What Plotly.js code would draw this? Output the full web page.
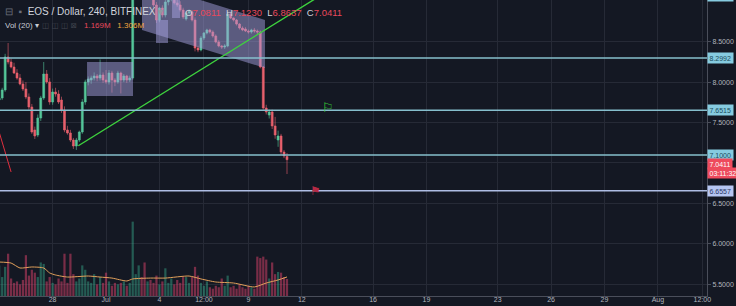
<!DOCTYPE html>
<html><head><meta charset="utf-8">
<script src="https://cdn.plot.ly/plotly-3.0.1.min.js"></script>
<style>html,body{margin:0;padding:0;background:#141823;}#chart{width:736px;height:306px;}</style>
</head><body><div id="chart"></div>
<script>
// ---------- data ----------
const firstCandle = '2018-06-25T00:00:00Z';
const candleHours = 4;

const openP = [7.78,7.804,7.903,8.311,8.249,8.187,8.113,8.051,7.977,7.915,
 7.816,7.692,7.408,7.346,7.556,7.804,8.100,8.002,7.754,7.878,
 7.853,7.779,7.655,7.408,7.371,7.284,7.210,7.284,7.383,7.754,
 8.002,8.026,8.051,8.076,8.051,8.088,8.026,8.002,8.113,8.026,
 8.002,8.113,8.026,8.076,8.026,8.051,9.15,9.30,9.38,9.22,
 9.14,9.24,9.15,8.954,8.768,8.917,8.830,8.991,9.06,9.08,
 8.98,8.954,8.892,8.78,8.855,8.87,8.768,8.422,8.397,8.546,
 8.608,8.645,8.620,8.570,8.496,8.447,8.434,8.447,8.842,8.793,
 8.768,8.718,8.669,8.657,8.632,8.620,8.645,8.632,8.620,8.187,
 7.680,7.593,7.631,7.458,7.284,7.334,7.136,7.0811];
const highP = [7.84,7.93,8.35,8.484,8.29,8.24,8.16,8.10,8.02,8.00,
 7.86,7.73,7.45,7.60,7.83,8.249,8.15,8.05,7.92,7.93,
 7.90,7.82,7.70,7.46,7.41,7.31,7.31,7.40,7.79,8.03,
 8.07,8.08,8.12,8.10,8.28,8.12,8.15,8.15,8.14,8.05,
 8.14,8.13,8.10,8.09,8.08,9.20,9.35,9.45,9.42,9.30,
 9.28,9.30,9.20,8.99,8.93,8.95,9.05,9.10,9.12,9.10,
 9.04,9.00,8.92,8.87,8.90,8.89,8.80,8.45,8.57,8.62,
 8.66,8.66,8.64,8.59,8.52,8.46,8.47,8.87,8.86,8.80,
 8.78,8.73,8.69,8.68,8.65,8.66,8.67,8.65,8.64,8.20,
 7.72,7.66,7.66,7.57,7.40,7.36,7.16,7.123];
const lowP = [7.74,7.78,7.88,8.22,8.17,8.10,8.03,7.96,7.89,7.79,
 7.66,7.36,7.297,7.32,7.52,7.78,7.98,7.72,7.72,7.82,
 7.73,7.62,7.38,7.35,7.26,7.173,7.161,7.26,7.36,7.72,
 7.96,7.98,8.02,8.01,8.02,7.99,7.98,7.97,7.87,7.95,
 7.98,7.86,8.00,7.99,8.00,8.03,9.10,9.20,9.18,9.10,
 9.08,9.12,8.93,8.731,8.74,8.80,8.80,8.95,9.00,8.96,
 8.93,8.87,8.78,8.76,8.82,8.75,8.38,8.37,8.38,8.52,
 8.59,8.60,8.55,8.48,8.43,8.41,8.41,8.43,8.78,8.75,
 8.70,8.65,8.63,8.62,8.60,8.60,8.61,8.59,8.17,7.66,
 7.60,7.55,7.42,7.30,7.20,7.10,7.06,6.8637];
const closeP = [7.80,7.903,8.311,8.249,8.187,8.113,8.051,7.977,7.915,7.816,
 7.692,7.383,7.334,7.556,7.804,8.100,8.002,7.754,7.878,7.853,
 7.754,7.655,7.408,7.371,7.284,7.210,7.284,7.383,7.754,8.002,
 8.039,8.051,8.076,8.051,8.088,8.026,8.002,8.113,8.026,8.002,
 8.113,8.026,8.076,8.026,8.051,9.15,9.30,9.38,9.22,9.14,
 9.24,9.15,8.954,8.768,8.917,8.830,8.991,9.06,9.08,8.98,
 8.954,8.892,8.805,8.855,8.87,8.768,8.422,8.397,8.546,8.608,
 8.645,8.620,8.570,8.496,8.447,8.434,8.447,8.842,8.793,8.768,
 8.718,8.669,8.645,8.632,8.620,8.645,8.632,8.620,8.187,7.680,
 7.631,7.631,7.458,7.346,7.334,7.136,7.087,7.0411];
const volM = [2.1,1.3,2.0,2.9,1.2,0.9,1.0,0.8,1.1,2.8,
 1.4,1.8,1.6,1.3,2.3,2.2,1.0,1.3,0.9,0.8,
 1.2,1.0,2.9,0.9,2.9,1.5,1.0,1.2,2.1,1.8,
 1.0,0.9,1.5,0.8,1.3,0.9,1.6,1.0,0.7,0.9,
 0.8,0.9,1.0,0.7,0.9,5.1,1.5,2.1,1.3,2.3,
 1.0,1.1,0.9,1.4,0.8,1.0,1.9,0.9,1.2,0.8,
 1.1,0.9,1.3,1.3,0.9,1.3,2.0,1.4,0.9,0.7,
 1.0,0.6,0.5,0.7,0.6,1.2,0.7,1.4,0.6,0.7,
 0.5,0.8,0.6,0.5,0.7,0.6,0.5,2.7,2.6,2.7,
 2.5,1.2,2.3,1.5,1.65,1.6,1.3,1.169];
const volMaIdx = [0,4,7,11,15,17,19,23,30,34,38,43,45,51,56,64,68,73,79,86,90,94,97];
const volMaVal = [2.33,2.26,1.92,1.99,1.92,1.58,1.44,1.30,1.37,1.30,1.23,1.03,1.17,1.23,1.23,1.37,1.17,0.96,0.89,0.62,0.89,1.10,1.306];

const levelsTeal = [9.06, 8.2992, 7.6515, 7.1000];
const levelsBlue = [6.6557];
const lastPrice = 7.0411;
const countdown = '03:11:32';
const legendOHLC = ['7.0811','7.1230','6.8637','7.0411'];
const legendVol = ['1.169M','1.306M'];

const xTickVals = ['2018-06-28','2018-07-01','2018-07-04','2018-07-06 12:00','2018-07-09','2018-07-12',
 '2018-07-16','2018-07-19','2018-07-23','2018-07-26','2018-07-29','2018-08-01','2018-08-03 12:00'];
const xTickText = ['28','Jul','4','12:00','9','12','16','19','23','26','29','Aug','12:00'];
const yTickVals = [5.5,6.0,6.5,7.0,7.5,8.0,8.5];
const yTickHidden = [7.0];

const trendX = ['2018-06-29 10:40','2018-07-13 14:00'];
const trendY = [7.213, 9.144];
const redLineX = ['2018-06-24 21:00','2018-06-25 16:00'];
const redLineY = [7.472, 6.889];
const boxX = ['2018-06-29 22:24','2018-07-02 12:24','2018-07-02 12:24','2018-06-29 22:24'];
const boxY = [8.249,8.249,7.829,7.829];
const channelX = ['2018-07-03 00:30','2018-07-09 22:18','2018-07-09 22:18','2018-07-03 00:30'];
const channelY = [9.24,8.768,8.175,8.645];
const rectAX = ['2018-07-03 19:24','2018-07-04 11:36','2018-07-04 11:36','2018-07-03 19:24'];
const rectAY = [8.768,8.768,8.484,8.484];
const rectBX = ['2018-07-04 17:00','2018-07-05 03:45','2018-07-05 03:45','2018-07-04 17:00'];
const rectBY = [9.10,9.10,8.793,8.793];
const flagGreen = ['2018-07-13 11:00', 7.692];
const flagRed = ['2018-07-12 19:00', 6.654];

// ---------- build ----------
const yMin = 5.355, yMax = 9.0156;
function paperY(v){ return (v - yMin) / (yMax - yMin); }
function candleTime(i){
  const d = new Date(Date.parse(firstCandle) + i*candleHours*3600e3);
  return d.toISOString().slice(0,16).replace('T',' ');
}
const times = openP.map((_,i)=>candleTime(i));
const volColors = openP.map((o,i)=> closeP[i] >= o ? 'rgba(60,185,150,0.42)' : 'rgba(232,70,110,0.48)');
const maTimes = volMaIdx.map(i=>candleTime(i));

const UP = '#55c79a', DN = '#e8606c';
const fillRect = 'rgba(170,165,228,0.48)';
function poly(x,y){
  return {type:'scatter', mode:'lines', x:x.concat([x[0]]), y:y.concat([y[0]]), fill:'toself',
    fillcolor:fillRect, line:{width:0}, hoverinfo:'skip', xaxis:'x', yaxis:'y'};
}

const traces = [
  {type:'candlestick', x:times, open:openP, high:highP, low:lowP, close:closeP,
   increasing:{line:{color:UP,width:0.6}, fillcolor:UP},
   decreasing:{line:{color:DN,width:0.6}, fillcolor:DN},
   whiskerwidth:0, xaxis:'x', yaxis:'y', hoverinfo:'skip'},
  poly(boxX, boxY), poly(channelX, channelY), poly(rectAX, rectAY), poly(rectBX, rectBY),
  {type:'scatter', mode:'lines', x:trendX, y:trendY, line:{color:'#3ed33e', width:1.4}, xaxis:'x', yaxis:'y', hoverinfo:'skip'},
  {type:'scatter', mode:'lines', x:redLineX, y:redLineY, line:{color:'#e0303f', width:1}, xaxis:'x', yaxis:'y', hoverinfo:'skip'},
  {type:'bar', x:times, y:volM, marker:{color:volColors, line:{width:0}}, xaxis:'x', yaxis:'y2', hoverinfo:'skip'},
  {type:'scatter', mode:'lines', x:maTimes, y:volMaVal, line:{color:'#e3a15b', width:1, shape:'spline', smoothing:0.6}, xaxis:'x', yaxis:'y2', hoverinfo:'skip'}
];

const shapes = [];
const annotations = [];
const lblFont = {family:'Liberation Sans, Arial, sans-serif', size:7};
levelsTeal.forEach(v=>{
  shapes.push({type:'line', xref:'paper', x0:0, x1:1, yref:'y', y0:v, y1:v, line:{color:'#86bfcd', width:1.5}, layer:'above'});
  annotations.push({xref:'paper', x:1, xanchor:'left', yref:'paper', y:paperY(v), yanchor:'middle', text:v.toFixed(4), showarrow:false,
    bgcolor:'#86cbe0', borderpad:1.5, font:Object.assign({color:'#1b4e5c'}, lblFont)});
});
levelsBlue.forEach(v=>{
  shapes.push({type:'line', xref:'paper', x0:0, x1:1, yref:'y', y0:v, y1:v, line:{color:'#aebde4', width:1.5}, layer:'above'});
  annotations.push({xref:'paper', x:1, xanchor:'left', yref:'paper', y:paperY(v), yanchor:'middle', text:v.toFixed(4), showarrow:false,
    bgcolor:'#b6c6f2', borderpad:1.5, font:Object.assign({color:'#2b3a66'}, lblFont)});
});
annotations.push({xref:'paper', x:1, xanchor:'left', yref:'paper', y:paperY(lastPrice), yanchor:'middle', yshift:-4.8, text:lastPrice.toFixed(4), showarrow:false,
  bgcolor:'#ee4b5d', borderpad:1.5, font:Object.assign({color:'#ffffff'}, lblFont)});
annotations.push({xref:'paper', x:1, xanchor:'left', yref:'paper', y:paperY(lastPrice), yanchor:'middle', yshift:-13.8, text:countdown, showarrow:false,
  bgcolor:'#ee4b5d', borderpad:1.5, font:Object.assign({color:'#ffffff'}, lblFont)});

const txtFont = 'Liberation Sans, Arial, sans-serif';
const red = '#e8495c';
annotations.push({xref:'paper', yref:'paper', x:0, y:1, xanchor:'left', yanchor:'top', xshift:3, yshift:-4, showarrow:false,
  text:'<span style="color:#6b6f7b">⊟  ▪</span>  EOS / Dollar, 240, BITFINEX <span style="color:#9598a1">▾</span>',
  font:{family:txtFont, size:10, color:'#d1d4dc'}});
annotations.push({xref:'paper', yref:'paper', x:183/707, y:1, xanchor:'left', yanchor:'top', yshift:-5, showarrow:false,
  text:'O<span style="color:'+red+'">'+legendOHLC[0]+'</span>  H<span style="color:'+red+'">'+legendOHLC[1]+'</span>  L<span style="color:'+red+'">'+legendOHLC[2]+'</span>  C<span style="color:'+red+'">'+legendOHLC[3]+'</span>',
  font:{family:txtFont, size:9.5, color:'#d1d4dc'}});
annotations.push({xref:'paper', yref:'paper', x:0, y:1, xanchor:'left', yanchor:'top', xshift:3, yshift:-19, showarrow:false,
  text:'Vol (20) ▾',
  font:{family:txtFont, size:8, color:'#c8cbd3'}});
annotations.push({xref:'paper', yref:'paper', x:40/707, y:1, xanchor:'left', yanchor:'top', yshift:-19, showarrow:false,
  text:'◫ ◫ ◫ ⊠', font:{family:'DejaVu Sans', size:7.5, color:'#41454f'}});
annotations.push({xref:'paper', yref:'paper', x:82/707, y:1, xanchor:'left', yanchor:'top', yshift:-19, showarrow:false,
  text:'<span style="color:'+red+'">'+legendVol[0]+'</span>   <span style="color:#f0a640">'+legendVol[1]+'</span>',
  font:{family:txtFont, size:8, color:'#c8cbd3'}});
annotations.push({xref:'x', yref:'y', x:flagGreen[0], y:flagGreen[1], text:'⚐', showarrow:false, font:{family:'DejaVu Sans', size:13, color:'#33c833'}});
annotations.push({xref:'x', yref:'y', x:flagRed[0], y:flagRed[1], text:'⚑', showarrow:false, font:{family:'DejaVu Sans', size:12, color:'#b52a45'}});

const layout = {
  width:736, height:306,
  margin:{l:0, r:29, t:0, b:10, pad:0},
  paper_bgcolor:'#141823', plot_bgcolor:'#141823',
  showlegend:false, bargap:0.25, boxgap:0.35, boxgroupgap:0, dragmode:false,
  font:{family:txtFont, color:'#b2b5be'},
  xaxis:{type:'date', range:['2018-06-25 01:04','2018-08-03 18:15'], tickvals:xTickVals, ticktext:xTickText,
    showgrid:true, gridcolor:'#262a36', gridwidth:1, showline:true, linecolor:'#4a4e5a', ticks:'',
    ticklabelstandoff:-3,
    tickfont:{size:7, color:'#b2b5be'}, rangeslider:{visible:false}, fixedrange:true, zeroline:false},
  yaxis:{side:'right', range:[yMin, yMax], tickvals:yTickVals,
    ticktext:yTickVals.map(v=> yTickHidden.includes(v) ? '' : v.toFixed(4)),
    showgrid:true, gridcolor:'#262a36', showline:true, linecolor:'#4a4e5a', ticks:'outside', ticklen:3, tickcolor:'#4a4e5a',
    tickfont:{size:7, color:'#b2b5be'}, zeroline:false, fixedrange:true},
  yaxis2:{overlaying:'y', range:[0, 20.3], visible:false, fixedrange:true},
  shapes:shapes, annotations:annotations
};
Plotly.newPlot('chart', traces, layout, {displayModeBar:false, staticPlot:true});
</script>
</body></html>
